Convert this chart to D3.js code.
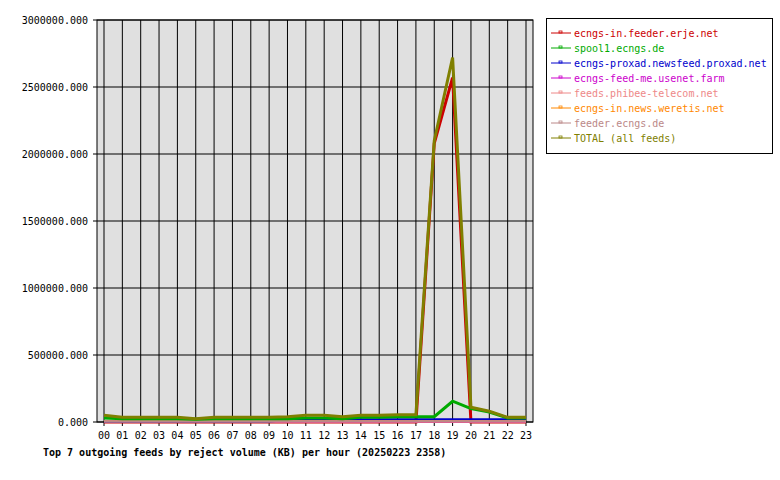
<!DOCTYPE html><html><head><meta charset="utf-8">
<script src="https://cdn.jsdelivr.net/npm/d3@7"></script>
<style>body{margin:0;background:#fff}text{font-family:"DejaVu Sans Mono",monospace;font-size:10px}</style>
</head><body><svg id="c" width="780" height="480"></svg>
<script>
const hours=["00","01","02","03","04","05","06","07","08","09","10","11","12","13","14","15","16","17","18","19","20","21","22","23"];
const yTicks=[0,500000,1000000,1500000,2000000,2500000,3000000];
const names=["ecngs-in.feeder.erje.net","spool1.ecngs.de","ecngs-proxad.newsfeed.proxad.net","ecngs-feed-me.usenet.farm","feeds.phibee-telecom.net","ecngs-in.news.weretis.net","feeder.ecngs.de","TOTAL (all feeds)"];
const colors=["#cc0000","#00aa00","#0000cc","#cc00cc","#ee8888","#ff8800","#bb8888","#808000"];
const sErje=[0,0,0,0,0,0,0,0,0,0,0,0,0,0,0,0,0,0,2080000,2570000,0,0,0,0];
const sSpool=[30000,25000,25000,25000,25000,20000,25000,25000,25000,25000,25000,30000,30000,25000,35000,35000,40000,40000,40000,155000,100000,75000,30000,30000];
const sProxad=[0,0,0,0,0,0,0,0,0,0,20000,20000,20000,20000,20000,20000,20000,20000,20000,20000,20000,20000,20000,20000];
const sFarm=[0,0,0,0,0,0,0,0,0,0,0,0,0,0,0,0,0,0,0,0,0,0,0,0];
const sPhibee=[3000,3000,3000,3000,3000,3000,3000,3000,3000,3000,3000,3000,3000,3000,3000,3000,3000,3000,3000,3000,3000,3000,3000,3000];
const sWeretis=[5000,5000,5000,8000,5000,5000,5000,5000,5000,5000,5000,5000,5000,5000,5000,5000,5000,5000,5000,5000,5000,5000,5000,5000];
const sFeeder=[6000,6000,6000,6000,6000,6000,6000,6000,6000,6000,6000,6000,6000,6000,6000,6000,6000,6000,6000,6000,6000,6000,6000,6000];
const sTotal=[50000,35000,35000,35000,35000,25000,35000,35000,35000,35000,40000,50000,50000,40000,50000,50000,55000,55000,2100000,2720000,110000,80000,35000,35000];
const series=[sErje,sSpool,sProxad,sFarm,sPhibee,sWeretis,sFeeder,sTotal];
const svg=d3.select("#c");
const L=97,R=533,T=20,B=422;
const x=d3.scalePoint().domain(hours).range([104,526]);
const y=d3.scaleLinear().domain([0,3000000]).range([B,T]);
svg.append("rect").attr("x",L).attr("y",T).attr("width",R-L).attr("height",B-T).attr("fill","#e0e0e0");
const g=svg.append("g");
hours.forEach(h=>g.append("line").attr("x1",x(h)).attr("x2",x(h)).attr("y1",T).attr("y2",B+4).attr("stroke","#000"));
yTicks.forEach(v=>g.append("line").attr("x1",L-4).attr("x2",R).attr("y1",y(v)).attr("y2",y(v)).attr("stroke","#000"));
svg.append("rect").attr("x",L).attr("y",T).attr("width",R-L).attr("height",B-T).attr("fill","none").attr("stroke","#000");
yTicks.forEach(v=>svg.append("text").attr("x",L-9).attr("y",y(v)+4).attr("text-anchor","end").text(v.toFixed(3)));
hours.forEach(h=>svg.append("text").attr("x",x(h)).attr("y",B+17).attr("text-anchor","middle").text(h));
svg.append("text").attr("x",43).attr("y",456).attr("font-weight","bold").attr("font-size","10.5px").text("Top 7 outgoing feeds by reject volume (KB) per hour (20250223 2358)");
const line=d3.line().x((d,i)=>x(hours[i])).y(d=>y(d));
const order=[0,3,2,5,4,6,1,7];
order.forEach(k=>svg.append("path").datum(series[k]).attr("d",line).attr("fill","none").attr("stroke",colors[k]).attr("stroke-width",k==7||k==0||k==1?3:2));
const lg=svg.append("g");
lg.append("rect").attr("x",546.5).attr("y",18.5).attr("width",226).attr("height",135).attr("fill","#fff").attr("stroke","#000");
names.forEach((n,i)=>{const yy=33+i*15;
 lg.append("line").attr("x1",551).attr("x2",571).attr("y1",yy).attr("y2",yy).attr("stroke",colors[i]);
 lg.append("rect").attr("x",559).attr("y",yy-2).attr("width",3).attr("height",2).attr("fill","none").attr("stroke",colors[i]).attr("stroke-width",0.8);
 lg.append("text").attr("x",574).attr("y",yy+4).attr("fill",colors[i]).text(n);});
</script></body></html>
